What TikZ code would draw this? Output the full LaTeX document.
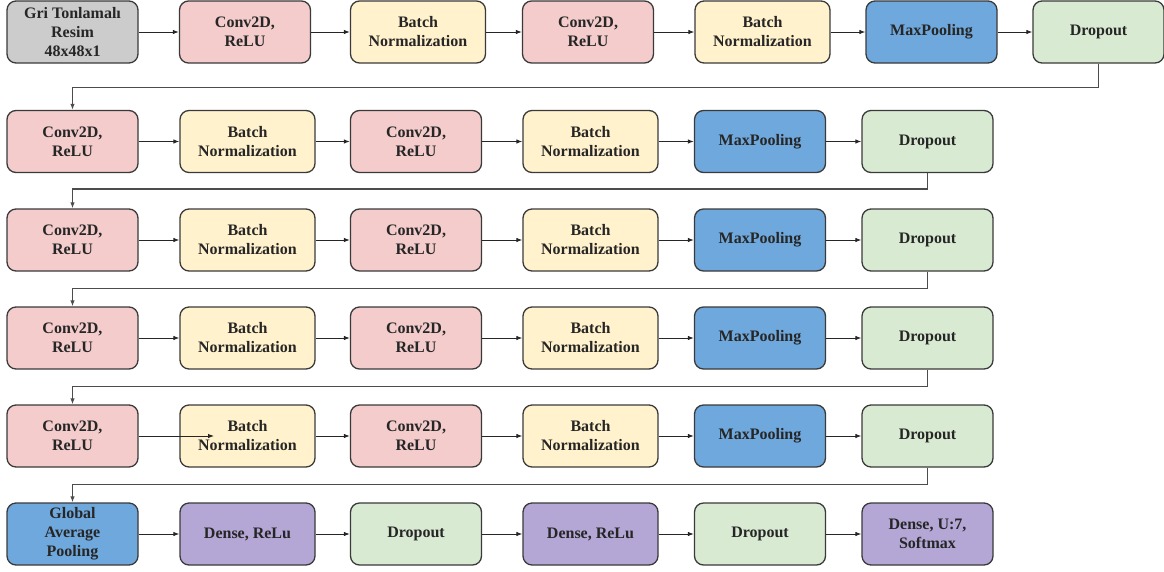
\documentclass[tikz,border=0pt]{standalone}
\usepackage{fontspec}
\setmainfont{Liberation Serif}
\usetikzlibrary{positioning, arrows.meta, calc}
\usepackage{xcolor}

\definecolor{inGray}{HTML}{CCCCCC}
\definecolor{convPink}{HTML}{F4CCCC}
\definecolor{bnYellow}{HTML}{FFF2CC}
\definecolor{poolBlue}{HTML}{6FA8DC}
\definecolor{dropGreen}{HTML}{D9EAD3}
\definecolor{densePurple}{HTML}{B4A7D6}
\definecolor{edgeGray}{HTML}{3A3A3A}

\begin{document}
\begin{tikzpicture}[x=1pt, y=-1pt,
        layer/.style={draw=edgeGray, line width=1.3pt, rounded corners=9pt,
                      minimum width=131pt, minimum height=62pt, align=center,
                      text=black!85, font=\bfseries\fontsize{16}{19}\selectfont,
                      inner sep=2pt},
        wide/.style={layer, minimum width=135pt},
        arr/.style={-{Latex[length=6pt,width=4.5pt]}, line width=0.9pt, draw=black!85},
        route/.style={-{Latex[length=6pt,width=4.5pt]}, line width=1.4pt, draw=black!70},
    ]
        \useasboundingbox (0,0) rectangle (1164,571);

        % row 1
        \node[layer, fill=inGray]     (r1c1) at (72.5,32)   {Gri Tonlamalı\\Resim\\48x48x1};
        \node[layer, fill=convPink]   (r1c2) at (245,32)    {Conv2D,\\ReLU};
        \node[wide,  fill=bnYellow]   (r1c3) at (418,32)    {Batch\\Normalization};
        \node[layer, fill=convPink]   (r1c4) at (588,32)    {Conv2D,\\ReLU};
        \node[wide,  fill=bnYellow]   (r1c5) at (762.5,32)  {Batch\\Normalization};
        \node[layer, fill=poolBlue]   (r1c6) at (931.5,32)  {MaxPooling};
        \node[layer, fill=dropGreen]  (r1c7) at (1098.5,32) {Dropout};

        % row 2
        \node[layer, fill=convPink]   (r2c1) at (72.5,141.5)  {Conv2D,\\ReLU};
        \node[wide,  fill=bnYellow]   (r2c2) at (247.5,141.5) {Batch\\Normalization};
        \node[layer, fill=convPink]   (r2c3) at (416,141.5)   {Conv2D,\\ReLU};
        \node[wide,  fill=bnYellow]   (r2c4) at (590.5,141.5) {Batch\\Normalization};
        \node[layer, fill=poolBlue]   (r2c5) at (760,141.5)   {MaxPooling};
        \node[layer, fill=dropGreen]  (r2c6) at (927.5,141.5) {Dropout};

        % row 3
        \node[layer, fill=convPink]   (r3c1) at (72.5,240)  {Conv2D,\\ReLU};
        \node[wide,  fill=bnYellow]   (r3c2) at (247.5,240) {Batch\\Normalization};
        \node[layer, fill=convPink]   (r3c3) at (416,240)   {Conv2D,\\ReLU};
        \node[wide,  fill=bnYellow]   (r3c4) at (590.5,240) {Batch\\Normalization};
        \node[layer, fill=poolBlue]   (r3c5) at (760,240)   {MaxPooling};
        \node[layer, fill=dropGreen]  (r3c6) at (927.5,240) {Dropout};

        % row 4
        \node[layer, fill=convPink]   (r4c1) at (72.5,338)  {Conv2D,\\ReLU};
        \node[wide,  fill=bnYellow]   (r4c2) at (247.5,338) {Batch\\Normalization};
        \node[layer, fill=convPink]   (r4c3) at (416,338)   {Conv2D,\\ReLU};
        \node[wide,  fill=bnYellow]   (r4c4) at (590.5,338) {Batch\\Normalization};
        \node[layer, fill=poolBlue]   (r4c5) at (760,338)   {MaxPooling};
        \node[layer, fill=dropGreen]  (r4c6) at (927.5,338) {Dropout};

        % row 5
        \node[layer, fill=convPink]   (r5c1) at (72.5,436)  {Conv2D,\\ReLU};
        \node[wide,  fill=bnYellow]   (r5c2) at (247.5,436) {Batch\\Normalization};
        \node[layer, fill=convPink]   (r5c3) at (416,436)   {Conv2D,\\ReLU};
        \node[wide,  fill=bnYellow]   (r5c4) at (590.5,436) {Batch\\Normalization};
        \node[layer, fill=poolBlue]   (r5c5) at (760,436)   {MaxPooling};
        \node[layer, fill=dropGreen]  (r5c6) at (927.5,436) {Dropout};

        % row 6
        \node[layer, fill=poolBlue]    (r6c1) at (72.5,534)  {Global\\Average\\Pooling};
        \node[wide,  fill=densePurple] (r6c2) at (247.5,534) {Dense, ReLu};
        \node[layer, fill=dropGreen]   (r6c3) at (416,534)   {Dropout};
        \node[wide,  fill=densePurple] (r6c4) at (590.5,534) {Dense, ReLu};
        \node[layer, fill=dropGreen]   (r6c5) at (760,534)   {Dropout};
        \node[layer, fill=densePurple] (r6c6) at (927.5,534) {Dense, U:7,\\Softmax};

        \coordinate (r5tip) at (214,436);

        % arrows inside rows
        \draw[arr] (r1c1) -- (r1c2);
        \draw[arr] (r1c2) -- (r1c3);
        \draw[arr] (r1c3) -- (r1c4);
        \draw[arr] (r1c4) -- (r1c5);
        \draw[arr] (r1c5) -- (r1c6);
        \draw[arr] (r1c6) -- (r1c7);

        \draw[arr] (r2c1) -- (r2c2);
        \draw[arr] (r2c2) -- (r2c3);
        \draw[arr] (r2c3) -- (r2c4);
        \draw[arr] (r2c4) -- (r2c5);
        \draw[arr] (r2c5) -- (r2c6);

        \draw[arr] (r3c1) -- (r3c2);
        \draw[arr] (r3c2) -- (r3c3);
        \draw[arr] (r3c3) -- (r3c4);
        \draw[arr] (r3c4) -- (r3c5);
        \draw[arr] (r3c5) -- (r3c6);

        \draw[arr] (r4c1) -- (r4c2);
        \draw[arr] (r4c2) -- (r4c3);
        \draw[arr] (r4c3) -- (r4c4);
        \draw[arr] (r4c4) -- (r4c5);
        \draw[arr] (r4c5) -- (r4c6);

        \draw[arr] (r5c1.east) -- (r5tip);
        \draw[arr] (r5c2) -- (r5c3);
        \draw[arr] (r5c3) -- (r5c4);
        \draw[arr] (r5c4) -- (r5c5);
        \draw[arr] (r5c5) -- (r5c6);

        \draw[arr] (r6c1) -- (r6c2);
        \draw[arr] (r6c2) -- (r6c3);
        \draw[arr] (r6c3) -- (r6c4);
        \draw[arr] (r6c4) -- (r6c5);
        \draw[arr] (r6c5) -- (r6c6);

        % wrap-around links
        \draw[route] (r1c7.south) -- ++(0,24) -| (r2c1.north);
        \draw[route] (r2c6.south) -- ++(0,16) -| (r3c1.north);
        \draw[route] (r3c6.south) -- ++(0,17) -| (r4c1.north);
        \draw[route] (r4c6.south) -- ++(0,17) -| (r5c1.north);
        \draw[route] (r5c6.south) -- ++(0,17) -| (r6c1.north);
    \end{tikzpicture}
\end{document}
